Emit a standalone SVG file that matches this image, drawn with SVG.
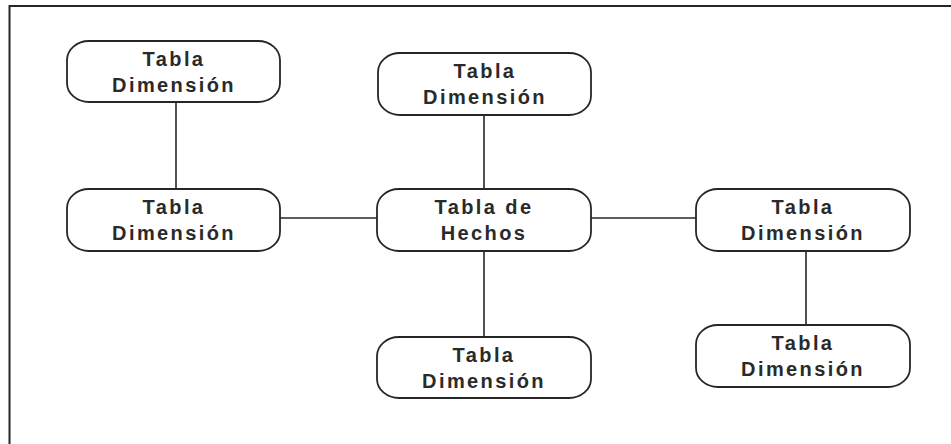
<svg xmlns="http://www.w3.org/2000/svg" width="951" height="444" viewBox="0 0 951 444">
  <style>
    .box { fill: #ffffff; stroke: #262626; stroke-width: 1.8; }
    .lbl { font-family: "Liberation Sans", Arial, sans-serif; font-size: 20px; font-weight: bold; fill: #2a2a2a; text-anchor: middle; letter-spacing: 2.4px; }
    .wire { stroke: #262626; stroke-width: 1.6; fill: none; }
    .frame { stroke: #262626; stroke-width: 2; fill: none; }
  </style>
  <rect x="0" y="0" width="951" height="444" fill="#ffffff"/>
  <path class="frame" d="M9.5,444 V6 H951"/>

  <g id="connectors">
    <line class="wire" x1="176" y1="102" x2="176" y2="189"/>
    <line class="wire" x1="280" y1="218" x2="377" y2="218"/>
    <line class="wire" x1="484" y1="115" x2="484" y2="189"/>
    <line class="wire" x1="591" y1="218" x2="696" y2="218"/>
    <line class="wire" x1="484" y1="251" x2="484" y2="337"/>
    <line class="wire" x1="806" y1="251" x2="806" y2="325"/>
  </g>

  <g id="dim-top-left">
    <rect class="box" x="67" y="41" width="213" height="61" rx="22" ry="19"/>
    <text class="lbl" x="174" y="66">Tabla</text>
    <text class="lbl" x="174" y="92">Dimensión</text>
  </g>
  <g id="dim-top-center">
    <rect class="box" x="378" y="53" width="213" height="62" rx="22" ry="19"/>
    <text class="lbl" x="485" y="78">Tabla</text>
    <text class="lbl" x="485" y="104">Dimensión</text>
  </g>
  <g id="dim-left">
    <rect class="box" x="67" y="189" width="213" height="62" rx="22" ry="19"/>
    <text class="lbl" x="174" y="214">Tabla</text>
    <text class="lbl" x="174" y="240">Dimensión</text>
  </g>
  <g id="fact">
    <rect class="box" x="377" y="189" width="214" height="62" rx="22" ry="19"/>
    <text class="lbl" x="484" y="214">Tabla de</text>
    <text class="lbl" x="484" y="240">Hechos</text>
  </g>
  <g id="dim-right">
    <rect class="box" x="696" y="189" width="214" height="62" rx="22" ry="19"/>
    <text class="lbl" x="803" y="214">Tabla</text>
    <text class="lbl" x="803" y="240">Dimensión</text>
  </g>
  <g id="dim-bottom-center">
    <rect class="box" x="377" y="337" width="214" height="61" rx="22" ry="19"/>
    <text class="lbl" x="484" y="362">Tabla</text>
    <text class="lbl" x="484" y="388">Dimensión</text>
  </g>
  <g id="dim-bottom-right">
    <rect class="box" x="696" y="325" width="214" height="62" rx="22" ry="19"/>
    <text class="lbl" x="803" y="350">Tabla</text>
    <text class="lbl" x="803" y="376">Dimensión</text>
  </g>
</svg>
